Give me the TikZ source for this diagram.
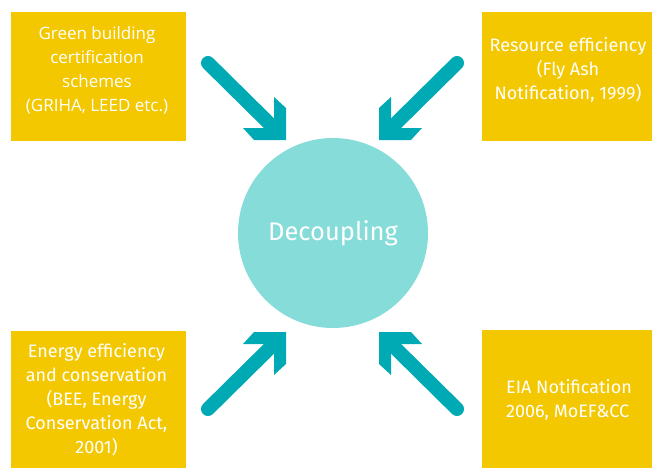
\documentclass[tikz,border=0pt]{standalone}
\usepackage{fontspec}
\setmainfont{Fira Sans}
\newfontfamily\opensans{Open Sans}
\usepackage{tikz}
\definecolor{boxyellow}{HTML}{F4C800}
\definecolor{arrowteal}{HTML}{00AAB5}
\definecolor{circleteal}{HTML}{86DCD8}

\begin{document}
\begin{tikzpicture}[x=1pt, y=-1pt,
    box/.style={fill=boxyellow, inner sep=0pt},
    boxtext/.style={text=white, align=center, inner sep=0pt, font=\fontsize{18}{24}\selectfont},
    shaft/.style={draw=arrowteal, line width=14pt, line cap=round, shorten >=20pt},
    head/.style={fill=arrowteal}]
    \useasboundingbox (0,0) rectangle (652,468);

    % Centre circle
    \node[circle, fill=circleteal, minimum size=190pt, inner sep=0pt, text=white,
          font=\fontsize{25.5}{30}\selectfont] (decoup) at (333,233) {Decoupling};

    % Boxes
    \node[box, minimum width=175pt, minimum height=129pt] (green) at (98.5,76.5) {};
    \node[box, minimum width=170pt, minimum height=129pt] (resource) at (567,76.5) {};
    \node[box, minimum width=175pt, minimum height=137pt] (energy) at (98.5,399.5) {};
    \node[box, minimum width=170pt, minimum height=138pt] (eia) at (567,399) {};

    % Box texts
    \node[boxtext, font=\opensans\fontsize{17}{24}\selectfont] (greenText) at (97,70)
        {Green building\\certification\\schemes\\(GRIHA, LEED etc.)};
    \node[boxtext] (resourceText) at (568,70)
        {Resource efficiency\\(Fly Ash\\Notification, 1999)};
    \node[boxtext] (energyText) at (96.5,400)
        {Energy efficiency\\and conservation\\(BEE, Energy\\Conservation Act,\\2001)};
    \node[boxtext, align=left] (eiaText) at (569,400)
        {EIA Notification\\2006, MoEF\&CC};

    % Arrows towards the circle
    \coordinate (tlTail) at (208,63);
    \coordinate (tlTip) at (286,140);
    \coordinate (trTail) at (457,63);
    \coordinate (trTip) at (379,140);
    \coordinate (blTail) at (208,409);
    \coordinate (blTip) at (286,332);
    \coordinate (brTail) at (457,409);
    \coordinate (brTip) at (379,332);

    \draw[shaft] (tlTail) -- (tlTip);
    \fill[head, shift={(tlTip)}] (0,0) -- (-32,0) -- (-43,-12) -- (-22,-12) -- (-12,-22) -- (-12,-43) -- (0,-32) -- cycle;
    \draw[shaft] (trTail) -- (trTip);
    \fill[head, shift={(trTip)}, xscale=-1] (0,0) -- (-32,0) -- (-43,-12) -- (-22,-12) -- (-12,-22) -- (-12,-43) -- (0,-32) -- cycle;
    \draw[shaft] (blTail) -- (blTip);
    \fill[head, shift={(blTip)}, yscale=-1] (0,0) -- (-32,0) -- (-43,-12) -- (-22,-12) -- (-12,-22) -- (-12,-43) -- (0,-32) -- cycle;
    \draw[shaft] (brTail) -- (brTip);
    \fill[head, shift={(brTip)}, scale=-1] (0,0) -- (-32,0) -- (-43,-12) -- (-22,-12) -- (-12,-22) -- (-12,-43) -- (0,-32) -- cycle;
\end{tikzpicture}
\end{document}
